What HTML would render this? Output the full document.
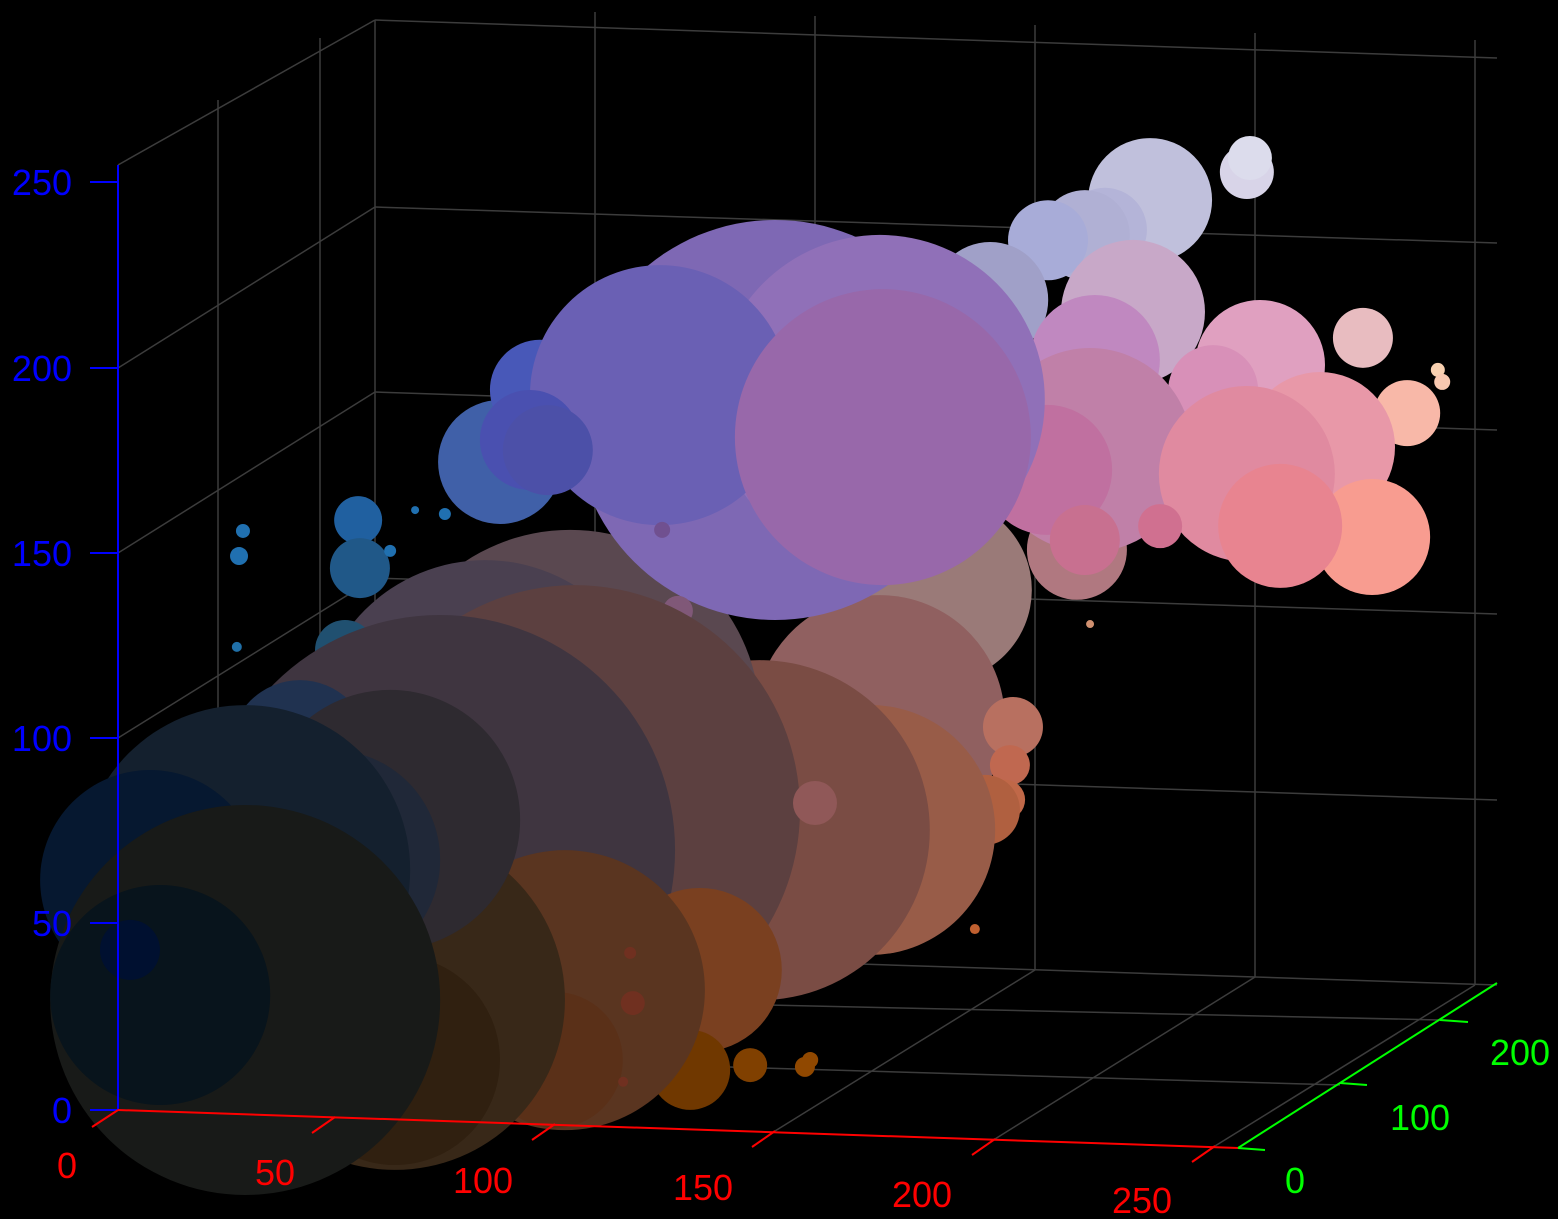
<!DOCTYPE html>
<html><head><meta charset="utf-8">
<style>
html,body{margin:0;padding:0;background:#000;}
svg{display:block;font-family:"Liberation Sans",sans-serif;}
</style></head>
<body>
<svg id="chart" width="1558" height="1219" viewBox="0 0 1558 1219">
<rect width="1558" height="1219" fill="#000"/>
<g id="grid" stroke="#3c3c3c" stroke-width="1.5" fill="none">
  <line x1="375" y1="20" x2="375" y2="965"/><line x1="595" y1="12" x2="595" y2="970"/>
  <line x1="815" y1="16" x2="815" y2="972"/><line x1="1035" y1="25" x2="1035" y2="970"/>
  <line x1="1255" y1="33" x2="1255" y2="977"/><line x1="1475" y1="40" x2="1475" y2="985"/>
  <line x1="375" y1="20" x2="1497" y2="58"/><line x1="375" y1="207" x2="1497" y2="243"/>
  <line x1="375" y1="392" x2="1497" y2="430"/><line x1="375" y1="578" x2="1497" y2="614"/>
  <line x1="375" y1="763" x2="1497" y2="800"/><line x1="375" y1="948" x2="1497" y2="985"/>
  <line x1="118" y1="165" x2="375" y2="20"/><line x1="118" y1="368" x2="375" y2="207"/>
  <line x1="118" y1="553" x2="375" y2="392"/><line x1="118" y1="738" x2="375" y2="578"/>
  <line x1="118" y1="923" x2="375" y2="763"/>
  <line x1="218" y1="100" x2="218" y2="1052"/><line x1="320" y1="38" x2="320" y2="995"/>
  <line x1="118" y1="1110" x2="375" y2="965"/><line x1="335" y1="1117" x2="595" y2="970"/>
  <line x1="555" y1="1124" x2="815" y2="972"/><line x1="775" y1="1131" x2="1035" y2="970"/>
  <line x1="995" y1="1139" x2="1255" y2="977"/><line x1="1215" y1="1146" x2="1475" y2="985"/>
  <line x1="218" y1="1052" x2="1340" y2="1085"/><line x1="320" y1="995" x2="1440" y2="1020"/>
</g>
<g id="bubbles"></g>
<g stroke="#0000ff" stroke-width="2">
  <line x1="118" y1="165" x2="118" y2="1110"/>
  <line x1="90" y1="182" x2="118" y2="182"/><line x1="90" y1="368" x2="118" y2="368"/>
  <line x1="90" y1="553" x2="118" y2="553"/><line x1="90" y1="738" x2="118" y2="738"/>
  <line x1="90" y1="923" x2="118" y2="923"/><line x1="90" y1="1110" x2="118" y2="1110"/>
</g>
<g fill="#0000ff" font-size="36" text-anchor="end">
  <text x="72" y="195">250</text><text x="72" y="381">200</text><text x="72" y="566">150</text>
  <text x="72" y="751">100</text><text x="72" y="936">50</text><text x="72" y="1123">0</text>
</g>
<g stroke="#ff0000" stroke-width="2">
  <line x1="118" y1="1110" x2="1238" y2="1148"/>
  <line x1="118" y1="1110" x2="92" y2="1127"/><line x1="335" y1="1117" x2="312" y2="1133"/>
  <line x1="555" y1="1124" x2="532" y2="1140"/><line x1="775" y1="1131" x2="752" y2="1147"/>
  <line x1="995" y1="1139" x2="972" y2="1155"/><line x1="1215" y1="1146" x2="1192" y2="1162"/>
</g>
<g fill="#ff0000" font-size="36" text-anchor="middle">
  <text x="67" y="1178">0</text><text x="275" y="1185">50</text><text x="483" y="1193">100</text>
  <text x="703" y="1200">150</text><text x="922" y="1207">200</text><text x="1142" y="1213">250</text>
</g>
<g stroke="#00ff00" stroke-width="2">
  <line x1="1238" y1="1148" x2="1497" y2="983"/>
  <line x1="1238" y1="1148" x2="1265" y2="1150"/><line x1="1340" y1="1083" x2="1367" y2="1085"/>
  <line x1="1440" y1="1020" x2="1468" y2="1022"/>
</g>
<g fill="#00ff00" font-size="36" text-anchor="middle">
  <text x="1295" y="1193">0</text><text x="1420" y="1130">100</text><text x="1520" y="1065">200</text>
</g>
</svg>
<script>
const xs=[212.8,234.9,235.6,202.5,197.9,189.5,176.3,208.9,237.9,261.4,278.5,279.5,271.5,251.6,227.2,200.2,196.1,199.1,234.9,263.5,242.5,215.1,189.3,197.9,199.1,
164.8,151.1,181.5,180.8,179.7,175.1,148.9,123.7,80.4,61.0,32.0,32.4,5.7,4.8,4.3,45.0,51.8,39.3,29.0,64.4,73.5,127.2,151.1,100.9,151.8,71.2,75.3,101.4,105.0,
81.5,136.3,50.7,110.0,107.8,121.5,134.0,135.2,79.2,76.9,65.5,94.1,94.7,92.5,172.8,40.4,40.4,18.7,39.3,25.6,6.2,-15.5,11.9,-9.8,6.2,-13.2,-20.1];
const zs=[238.2,246.6,250.4,229.8,228.2,226.5,209.9,207.9,194.7,202.9,194.9,191.7,183.0,173.1,187.5,194.6,143.3,170.3,165.2,149.3,151.5,150.4,164.6,146.0,123.4,
131.3,95.7,95.0,84.7,75.3,72.4,66.0,65.0,93.1,89.6,145.1,132.2,141.2,134.4,109.9,148.3,147.5,137.1,110.0,162.0,181.8,175.7,182.0,181.4,172.0,168.2,165.6,145.1,123.4,
68.8,72.8,56.9,26.8,-0.2,1.6,1.6,3.5,20.2,1.3,34.3,30.8,17.3,-4.0,40.2,16.1,-0.1,82.6,64.6,53.3,49.8,46.3,-1.2,-2.0,14.8,15.4,27.3];
const ys=new Array(xs.length).fill(100);
const sizes=[62,27,22,42,45,40,58,72,65,30,7,8,33,75,45,65,50,102,88,58,62,22,65,35,4,
92,125,30,20,20,35,125,170,190,170,24,30,7,9,5,4,6,6,30,62,50,200,165,130,148,50,45,8,15,
225,22,235,82,40,17,10,8,140,68,40,6,12,5,5,170,105,70,130,110,165,110,80,65,195,110,30];
const colors=["#c0c0dc","#d8d4e8","#dcdcec","#b4b4d8","#b0b0d4","#a8acd8","#a0a0c8","#c8a8c8","#e0a0c0","#e8bcc0","#f8d0b0","#f8c8b0","#f8b8a8","#e898a8","#d890b8","#c088c0","#b07880","#c080a8","#e08aa0","#f89c90","#e88490","#d07090","#c070a0","#c87090","#d09070",
"#9a7a78","#906060","#b87060","#c06850","#c06848","#b06040","#985c48","#7a4c44","#5a4850","#4a4050","#2060a0","#205888","#2070b0","#2070b0","#2070a8","#2070b0","#2070b0","#2070b0","#205070","#4060a8","#4858b8","#7e68b4","#9070b8","#6a60b4","#9868aa","#4a50b0","#4c50a8","#705090","#805878",
"#5c4040","#905858","#3f3540","#7a4020","#703800","#804000","#904800","#904800","#5a3520","#5a3018","#503838","#703020","#703020","#703020","#c06030","#382818","#302010","#203250","#2e2a30","#202838","#14202e","#061830","#1a1808","#101410","#181a18","#08141c","#001030"];
function px(x,y,z){return 118+4.38*x+1.0*y;}
function py(x,y,z){return 1110+0.14*x-0.56*y-3.71*z;}
const g=document.getElementById('bubbles');
for(let i=0;i<xs.length;i++){
  const c=document.createElementNS('http://www.w3.org/2000/svg','circle');
  c.setAttribute('cx',px(xs[i],ys[i],zs[i]));
  c.setAttribute('cy',py(xs[i],ys[i],zs[i]));
  c.setAttribute('r',sizes[i]);
  c.setAttribute('fill',colors[i]);
  
  
  g.appendChild(c);
}
</script>
</body></html>
